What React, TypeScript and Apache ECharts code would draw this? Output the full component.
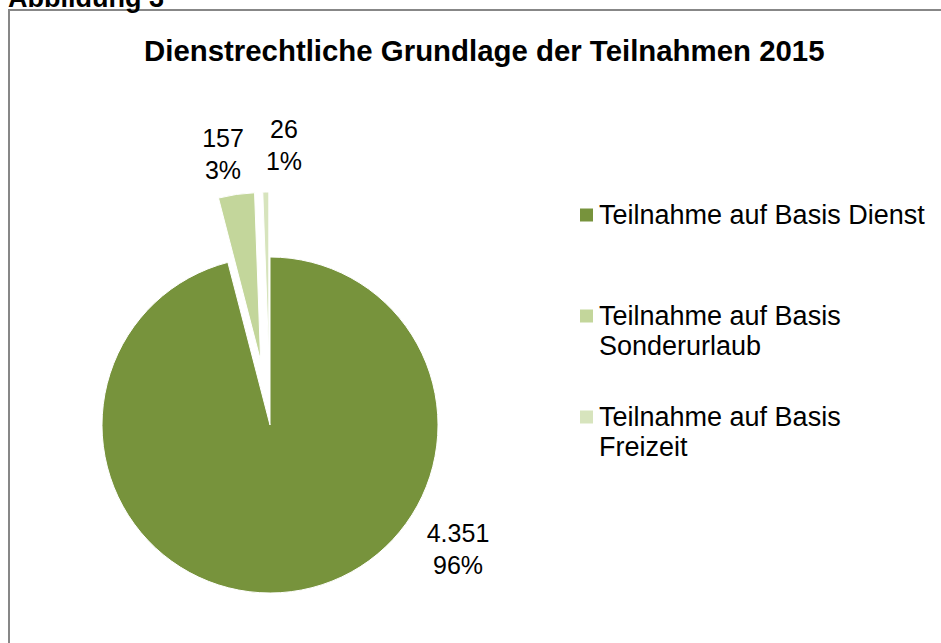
import React, { useEffect, useRef } from "react";
import * as echarts from "echarts";

const categories = [
  "Teilnahme auf Basis Dienst",
  "Teilnahme auf Basis Sonderurlaub",
  "Teilnahme auf Basis Freizeit",
];
// legend texts: a leading empty line keeps the first text line level with the marker
const legendLabels = [
  "\nTeilnahme auf Basis Dienst\n",
  "\nTeilnahme auf Basis\nSonderurlaub",
  "\nTeilnahme auf Basis\nFreizeit",
];
const values = [4351, 157, 26];
const exploded = [false, true, true];
const colors = ["#77933C", "#C3D69B", "#D7E4BD"];

const titleText = "Dienstrechtliche Grundlage der Teilnahmen 2015";
const figureText = "Abbildung 3";

const FONT = "'Liberation Sans', Arial, Helvetica, sans-serif";

// label anchor positions (layout, in px)
const labelPos = [
  { x: 458, y: 549 },
  { x: 223, y: 154 },
  { x: 284, y: 145 },
];

const fmtNum = (v: number) =>
  String(v).replace(/\B(?=(\d{3})+(?!\d))/g, ".");

export default function App() {
  const ref = useRef<HTMLDivElement>(null);
  useEffect(() => {
    if (!ref.current) return;
    const chart = echarts.init(ref.current, undefined, { renderer: "svg" });
    const pieData = categories.map((c, i) => ({
      name: c,
      value: values[i],
    }));
    chart.setOption({
      animation: false,
      backgroundColor: "#ffffff",
      title: {
        text: titleText,
        left: 139,
        top: 31,
        textStyle: {
          fontFamily: FONT,
          fontWeight: "bold",
          fontSize: 29.4,
          color: "#000000",
        },
      },
      graphic: [
        {
          type: "rect",
          silent: true,
          z: 0,
          shape: { x: 9, y: 10, width: 2000, height: 2000 },
          style: { fill: "none", stroke: "#878787", lineWidth: 2 },
        },
        {
          type: "text",
          silent: true,
          x: 8,
          y: 11,
          style: {
            text: figureText,
            font: `bold 27px ${FONT}`,
            fill: "#000000",
            verticalAlign: "bottom",
            align: "left",
          },
        },
      ],
      legend: {
        orient: "vertical",
        left: 573,
        top: 165,
        itemWidth: 15,
        itemHeight: 15,
        itemGap: 11,
        icon: "rect",
        data: categories,
        formatter: (name: string) => legendLabels[categories.indexOf(name)],
        textStyle: {
          fontFamily: FONT,
          fontSize: 27,
          lineHeight: 30,
          color: "#000000",
        },
      },
      series: [
        {
          type: "pie",
          center: [270, 425],
          radius: 168,
          startAngle: 90,
          clockwise: true,
          selectedMode: "multiple",
          selectedOffset: 65,
          emphasis: { disabled: true },
          itemStyle: { borderColor: "#ffffff", borderWidth: 1 },
          select: { itemStyle: { borderColor: "#ffffff", borderWidth: 1 } },
          label: { show: false },
          labelLine: { show: false },
          data: pieData.map((d, i) => ({
            ...d,
            selected: exploded[i],
            itemStyle: { color: colors[i] },
          })),
        },
        {
          // label layer for the same data
          type: "pie",
          silent: true,
          legendHoverLink: false,
          center: [270, 425],
          radius: 168,
          startAngle: 90,
          clockwise: true,
          selectedMode: false,
          avoidLabelOverlap: false,
          emphasis: { disabled: true },
          itemStyle: { color: "rgba(0,0,0,0)", borderWidth: 0 },
          label: {
            show: true,
            position: "outside",
            fontFamily: FONT,
            fontSize: 25,
            lineHeight: 32,
            color: "#000000",
            align: "center",
            formatter: (p: any) =>
              `${fmtNum(p.value)}\n${Math.round(p.percent)}%`,
          },
          labelLine: { show: false },
          labelLayout: (p: any) => ({
            x: labelPos[p.dataIndex].x,
            y: labelPos[p.dataIndex].y,
            align: "center",
            verticalAlign: "middle",
          }),
          data: pieData,
        },
      ],
    });
    return () => chart.dispose();
  }, []);
  return (
    <div
      ref={ref}
      style={{ position: "fixed", left: 0, top: 0, width: 941, height: 643 }}
    />
  );
}
